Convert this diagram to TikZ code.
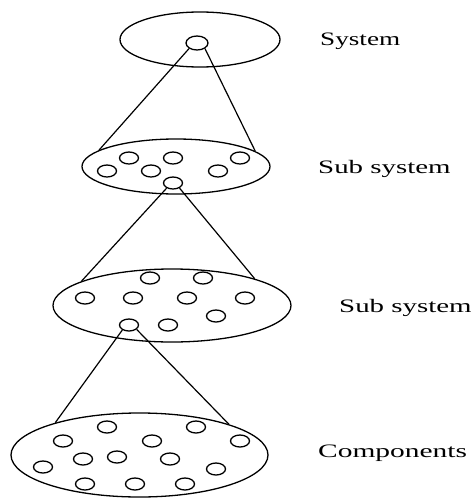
\documentclass[tikz,border=0pt]{standalone}
\usepackage{fontspec}
\usepackage{graphicx}
\setmainfont{Liberation Serif}
\usetikzlibrary{shapes.geometric}
\begin{document}
\begin{tikzpicture}[x=1pt,y=-1pt,
  big/.style={ellipse,draw,line width=1.3pt,inner sep=0pt},
  dot/.style={ellipse,draw,line width=1.3pt,inner sep=0pt,minimum width=19pt,minimum height=12pt},
  link/.style={line width=1.2pt},
  lbl/.style={anchor=base west,inner sep=0pt,font=\fontsize{19}{22}\selectfont}]
\useasboundingbox (0,0) rectangle (474,498);

% level 1
\node[big,minimum width=160pt,minimum height=55pt] (e1) at (200,39.5) {};
\node[dot,minimum width=22pt,minimum height=14pt] (c0) at (197,43) {};

% level 2
\node[big,minimum width=188pt,minimum height=55pt] (e2) at (176,166.5) {};
\node[dot] (b1) at (129,158) {};
\node[dot] (b2) at (173,158) {};
\node[dot] (b3) at (240,158) {};
\node[dot] (b4) at (107,171) {};
\node[dot] (b5) at (151,171) {};
\node[dot] (b6) at (218,171) {};
\node[dot] (b7) at (173,183) {};

% level 3
\node[big,minimum width=238pt,minimum height=73pt] (e3) at (172,305.5) {};
\node[dot] (s1) at (150,278) {};
\node[dot] (s2) at (203,278) {};
\node[dot] (s3) at (85,298) {};
\node[dot] (s4) at (133,298) {};
\node[dot] (s5) at (187,298) {};
\node[dot] (s6) at (245,298) {};
\node[dot] (s7) at (216,316) {};
\node[dot] (s8) at (129,325) {};
\node[dot] (s9) at (168,325) {};

% level 4
\node[big,minimum width=257pt,minimum height=84pt] (e4) at (139.5,455) {};
\node[dot] (k1) at (107,427) {};
\node[dot] (k2) at (196,427) {};
\node[dot] (k3) at (63,441) {};
\node[dot] (k4) at (152,441) {};
\node[dot] (k5) at (240,441) {};
\node[dot] (k6) at (83,459) {};
\node[dot] (k7) at (117,457) {};
\node[dot] (k8) at (170,459) {};
\node[dot] (k9) at (43,467) {};
\node[dot] (k10) at (216,469) {};
\node[dot] (k11) at (85,484) {};
\node[dot] (k12) at (135,484) {};
\node[dot] (k13) at (185,484) {};

% connectors
\draw[link] (c0.215) -- (e2.168.8);
\draw[link] (c0.325) -- (e2.11.5);
\draw[link] (b7.219) -- (e3.165.8);
\draw[link] (b7.322) -- (e3.18.3);
\draw[link] (s8.217) -- (e4.159.7);
\draw[link] (s8.330) -- (e4.19.1);

% labels
\node[lbl] (t1) at (320,45) {\scalebox{1.43}[1]{System}};
\node[lbl] (t2) at (318,173) {\scalebox{1.52}[1]{Sub system}};
\node[lbl] (t3) at (339,312) {\scalebox{1.52}[1]{Sub system}};
\node[lbl] (t4) at (318,457) {\scalebox{1.55}[1]{Components}};
\end{tikzpicture}
\end{document}
